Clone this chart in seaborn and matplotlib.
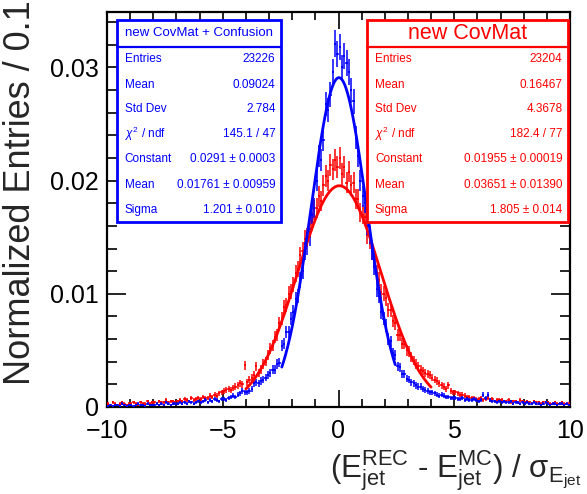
import numpy as np
import pandas as pd
import matplotlib
matplotlib.use("Agg")
import matplotlib.pyplot as plt
from matplotlib.patches import Rectangle
from matplotlib.lines import Line2D
import seaborn as sns

# ---------------- data ----------------
x_min, x_max, bin_width = -10.0, 10.0, 0.1

# bin contents (normalized entries, in units of 1e-4), 200 bins from -10 to 10
blue_values_1e4 = [
    1, 2, 1, 2, 2, 1, 3, 2, 1, 2,
    2, 1, 2, 3, 2, 2, 1, 3, 2, 2,
    2, 3, 2, 3, 2, 4, 3, 2, 3, 3,
    3, 4, 3, 4, 3, 5, 4, 3, 4, 5,
    4, 5, 6, 4, 6, 5, 7, 6, 5, 7,
    7, 6, 8, 9, 10, 9, 11, 12, 14, 13,
    13, 14, 16, 21, 22, 21, 23, 24, 26, 28,
    30, 33, 33, 38, 39, 54, 56, 66, 66, 78,
    84, 95, 98, 112, 120, 138, 142, 150, 170, 176,
    200, 222, 218, 236, 268, 262, 276, 296, 321, 312,
    318, 300, 310, 304, 296, 280, 270, 238, 222, 200,
    186, 180, 160, 152, 138, 124, 104, 98, 84, 78,
    72, 60, 58, 48, 46, 36, 35, 29, 29, 25,
    24, 22, 21, 19, 18, 18, 16, 15, 14, 13,
    13, 12, 11, 10, 11, 10, 9, 9, 8, 8,
    8, 7, 7, 8, 6, 7, 6, 6, 7, 6,
    5, 6, 11, 8, 11, 6, 5, 5, 4, 5,
    4, 5, 4, 4, 5, 3, 4, 4, 3, 4,
    3, 4, 3, 3, 4, 3, 3, 2, 3, 4,
    3, 2, 3, 3, 2, 3, 3, 2, 3, 2,
]
red_values_1e4 = [
    3, 2, 4, 3, 2, 3, 4, 3, 2, 3,
    3, 4, 3, 2, 4, 3, 3, 5, 3, 4,
    4, 3, 5, 4, 4, 6, 4, 5, 5, 4,
    5, 6, 5, 7, 6, 5, 8, 6, 7, 8,
    7, 9, 8, 8, 10, 9, 11, 10, 12, 13,
    14, 15, 16, 15, 17, 18, 19, 21, 20, 37,
    22, 24, 26, 28, 36, 30, 33, 38, 40, 46,
    52, 54, 62, 64, 74, 78, 88, 90, 100, 102,
    108, 118, 122, 134, 138, 148, 150, 162, 164, 174,
    176, 186, 182, 196, 204, 200, 214, 210, 218, 212,
    220, 206, 212, 198, 208, 196, 198, 184, 184, 172,
    170, 168, 152, 148, 138, 130, 118, 112, 102, 100,
    96, 86, 86, 76, 74, 64, 64, 56, 56, 50,
    49, 44, 41, 38, 36, 33, 32, 30, 29, 28,
    26, 24, 23, 21, 19, 18, 16, 19, 14, 13,
    13, 12, 11, 11, 10, 9, 9, 8, 8, 7,
    7, 8, 6, 7, 8, 6, 7, 5, 6, 6,
    6, 5, 5, 6, 4, 5, 5, 4, 6, 5,
    4, 5, 4, 3, 5, 4, 4, 3, 4, 4,
    4, 3, 3, 4, 3, 3, 4, 3, 3, 3,
]
blue_entries = 23226
red_entries = 23204

# Gaussian fit parameters (constant, mean, sigma) and fit ranges
blue_fit_params = [0.0291, 0.01761, 1.201]
blue_fit_range = [-2.45, 2.45]
red_fit_params = [0.01955, 0.03651, 1.805]
red_fit_range = [-4.0, 4.0]

blue_title = "new CovMat + Confusion"
red_title = "new CovMat"
stat_labels = ["Entries", "Mean", "Std Dev", r"$\chi^2$ / ndf", "Constant", "Mean", "Sigma"]
blue_stat_values = ["23226", "0.09024", "2.784", "145.1 / 47", "0.0291 ± 0.0003",
                    "0.01761 ± 0.00959", "1.201 ± 0.010"]
red_stat_values = ["23204", "0.16467", "4.3678", "182.4 / 77", "0.01955 ± 0.00019",
                   "0.03651 ± 0.01390", "1.805 ± 0.014"]

x_ticks = [-10, -5, 0, 5, 10]
y_ticks = [0, 0.01, 0.02, 0.03]
y_tick_labels = ["0", "0.01", "0.02", "0.03"]

# ---------------- style ----------------
sns.set_style("ticks")
plt.rcParams["font.family"] = ["Liberation Sans", "DejaVu Sans"]
plt.rcParams["mathtext.fontset"] = "custom"
plt.rcParams["mathtext.rm"] = "Liberation Sans"
plt.rcParams["mathtext.it"] = "Liberation Sans:italic"
plt.rcParams["mathtext.sf"] = "Liberation Sans"

BLUE = "#0000ff"
RED = "#ff0000"

fig = plt.figure(figsize=(5.87, 4.94), dpi=100)
ax = fig.add_axes([107 / 587, 1 - 407 / 494, 463 / 587, 395 / 494])

n_bins = len(blue_values_1e4)
centers = x_min + bin_width * (np.arange(n_bins) + 0.5)


def make_df(values, entries, name):
    v = np.asarray(values, dtype=float) * 1e-4
    err = np.sqrt(v / entries)
    return pd.DataFrame({"x": centers, "y": v, "err": err, "series": name})


df_red = make_df(red_values_1e4, red_entries, "red")
df_blue = make_df(blue_values_1e4, blue_entries, "blue")


def gauss_df(params, rng):
    c, m, s = params
    xs = np.linspace(rng[0], rng[1], 300)
    return pd.DataFrame({"x": xs, "y": c * np.exp(-0.5 * ((xs - m) / s) ** 2)})


for df, col in [(df_red, RED), (df_blue, BLUE)]:
    ax.errorbar(df["x"], df["y"], yerr=df["err"], xerr=bin_width / 2, fmt="none",
                ecolor=col, elinewidth=1.1, capsize=0, zorder=3)
    sns.scatterplot(data=df, x="x", y="y", ax=ax, color=col, marker="s", s=3,
                    linewidth=0, zorder=3, legend=False)

sns.lineplot(data=gauss_df(red_fit_params, red_fit_range), x="x", y="y", ax=ax,
             color=RED, linewidth=2, zorder=4)
sns.lineplot(data=gauss_df(blue_fit_params, blue_fit_range), x="x", y="y", ax=ax,
             color=BLUE, linewidth=2, zorder=4)

ax.set_xlim(x_min, x_max)
ax.set_ylim(0, 0.0349)
ax.set_xticks(x_ticks)
ax.set_xticklabels([str(t) if t >= 0 else "\u2212" + str(-t) for t in x_ticks])
ax.set_yticks(y_ticks)
ax.set_yticklabels(y_tick_labels)
ax.set_xticks(np.arange(-10, 10.01, 1), minor=True)
ax.set_yticks(np.arange(0, 0.035, 0.002), minor=True)
ax.tick_params(which="both", direction="in", top=True, right=True, width=1.2,
               labelsize=18, colors="black")
ax.tick_params(axis="y", which="major", length=14, pad=6)
ax.tick_params(axis="y", which="minor", length=7)
ax.tick_params(axis="x", which="major", length=12, pad=9)
ax.tick_params(axis="x", which="minor", length=6)
for sp in ax.spines.values():
    sp.set_linewidth(1.6)
    sp.set_color("black")

ax.set_xlabel(r"(E$_{\mathregular{jet}}^{\mathregular{REC}}$ - "
              r"E$_{\mathregular{jet}}^{\mathregular{MC}}$) / "
              r"σ$_{\mathregular{E_{jet}}}$",
              fontsize=22.5, ha="right")
ax.xaxis.set_label_coords(1.025, -0.104)
ax.set_ylabel("Normalized Entries / 0.1", fontsize=26, ha="right")
ax.yaxis.set_label_coords(-0.15, 1.03)


def stats_box(x0, x1, title, title_size, values, col):
    y0, y1 = 0.468, 0.980
    yh = 0.912
    ax.add_patch(Rectangle((x0, y0), x1 - x0, y1 - y0, transform=ax.transAxes,
                           facecolor="white", edgecolor=col, linewidth=2, zorder=10))
    ax.add_line(Line2D([x0, x1], [yh, yh], transform=ax.transAxes, color=col,
                       linewidth=1.6, zorder=11))
    ax.text((x0 + x1) / 2, (yh + y1) / 2, title, transform=ax.transAxes, ha="center",
            va="center", color=col, fontsize=title_size, zorder=12)
    row_y = [(407 - yp) / 395 for yp in [59, 85, 109, 134, 159, 185, 210]]
    for lab, val, yy in zip(stat_labels, values, row_y):
        ax.text(x0 + 0.017, yy, lab, transform=ax.transAxes, ha="left", va="center",
                color=col, fontsize=8.5, zorder=12)
        ax.text(x1 - 0.012, yy, val, transform=ax.transAxes, ha="right", va="center",
                color=col, fontsize=8.5, zorder=12)


stats_box(0.0216, 0.376, blue_title, 9.5, blue_stat_values, BLUE)
stats_box(0.5616, 0.9957, red_title, 15.5, red_stat_values, RED)

fig.savefig("out.png", dpi=100)
